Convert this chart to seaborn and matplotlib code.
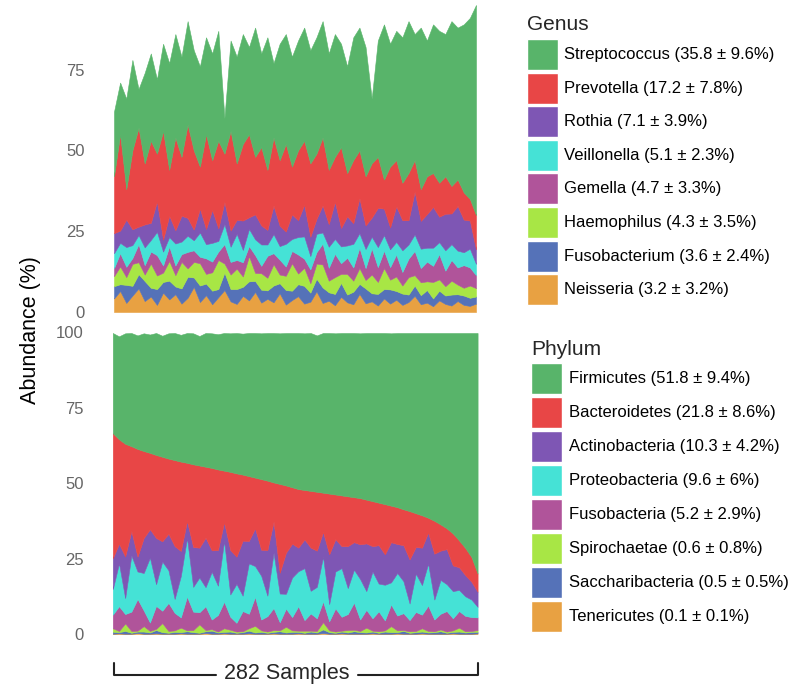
import numpy as np
import matplotlib
matplotlib.use("Agg")
import matplotlib.pyplot as plt
from matplotlib.patches import Rectangle
import seaborn as sns

# --- Genus (top panel), stacked from bottom to top, one value per sample group ---
genus_labels = ["Streptococcus (35.8 ± 9.6%)", "Prevotella (17.2 ± 7.8%)",
                "Rothia (7.1 ± 3.9%)", "Veillonella (5.1 ± 2.3%)",
                "Gemella (4.7 ± 3.3%)", "Haemophilus (4.3 ± 3.5%)",
                "Fusobacterium (3.6 ± 2.4%)", "Neisseria (3.2 ± 3.2%)"]

neisseria = [4.2, 6.5, 2.8, 5.1, 7.3, 3.4, 4.8, 2.2, 6.0, 3.9,
             5.5, 2.6, 4.4, 7.8, 3.1, 5.2, 2.4, 4.6, 6.8, 3.3,
             2.5, 5.0, 3.6, 6.2, 2.9, 4.1, 3.0, 5.8, 2.3, 3.7,
             4.9, 2.6, 3.2, 6.4, 2.8, 3.5, 2.1, 4.7, 3.0, 2.4,
             5.6, 2.7, 3.3, 2.0, 4.2, 2.6, 3.8, 2.2, 3.1, 5.0,
             2.4, 2.9, 1.8, 3.6, 2.5, 2.0, 3.4, 2.2, 1.9, 2.6]
fusobacterium = [3.8, 2.1, 5.6, 3.0, 4.4, 6.2, 2.7, 4.9, 3.3, 5.8,
                 2.4, 4.7, 6.5, 2.9, 5.1, 3.6, 4.2, 2.5, 5.4, 3.8,
                 4.6, 2.8, 5.9, 3.4, 4.0, 2.6, 5.2, 3.1, 4.5, 2.9,
                 3.7, 5.5, 2.8, 3.9, 4.8, 2.6, 3.5, 4.3, 2.4, 3.9,
                 3.1, 4.6, 2.5, 3.6, 2.9, 4.4, 2.7, 3.5, 2.3, 3.2,
                 2.8, 3.9, 2.4, 3.0, 2.6, 3.4, 2.1, 2.9, 2.5, 2.2]
haemophilus = [3.1, 5.5, 2.4, 6.8, 3.7, 2.0, 7.5, 4.2, 2.9, 6.1,
               3.5, 8.2, 2.6, 4.8, 6.9, 3.0, 5.7, 9.0, 2.8, 4.5,
               6.3, 3.2, 7.8, 2.5, 5.1, 3.9, 6.6, 2.7, 4.4, 8.5,
               3.3, 5.6, 2.9, 4.7, 7.1, 3.6, 5.2, 2.8, 6.4, 3.4,
               4.9, 2.6, 5.8, 3.7, 6.5, 3.0, 4.5, 2.5, 5.4, 3.2,
               4.0, 2.7, 5.1, 3.5, 2.9, 4.3, 3.0, 2.4, 3.8, 2.6]
gemella = [2.5, 4.1, 3.2, 1.8, 5.6, 2.9, 3.7, 6.3, 2.2, 4.5,
           3.0, 2.4, 5.1, 3.6, 2.0, 4.8, 3.3, 2.6, 6.0, 3.9,
           2.7, 4.4, 3.1, 5.5, 2.3, 6.8, 3.4, 4.6, 2.9, 3.8,
           5.9, 2.8, 4.3, 3.5, 6.5, 4.0, 7.2, 3.3, 5.0, 4.1,
           6.3, 3.7, 8.1, 4.6, 5.4, 3.9, 6.8, 4.2, 5.7, 7.5,
           4.4, 6.1, 5.0, 7.8, 4.8, 6.4, 5.3, 7.0, 5.6, 4.0]
veillonella = [4.6, 3.2, 6.1, 4.0, 2.8, 5.5, 3.6, 7.2, 4.3, 2.9,
               6.8, 3.9, 5.0, 3.1, 7.5, 4.4, 5.8, 3.3, 6.2, 4.7,
               8.1, 3.8, 5.3, 4.9, 6.6, 3.5, 5.9, 4.2, 7.0, 3.7,
               5.4, 6.9, 4.1, 5.7, 3.4, 6.5, 4.6, 5.2, 3.8, 7.3,
               4.5, 5.9, 3.6, 6.2, 4.8, 5.5, 3.9, 6.7, 4.4, 5.1,
               6.0, 4.3, 5.6, 3.7, 6.3, 4.9, 5.2, 4.0, 5.8, 3.5]
rothia = [6.2, 3.8, 8.5, 4.9, 2.6, 7.1, 5.3, 9.4, 3.7, 6.6,
          4.1, 8.0, 5.5, 3.3, 7.4, 4.7, 10.2, 3.9, 6.8, 5.0,
          4.3, 9.1, 3.6, 7.7, 5.9, 4.5, 8.8, 6.3, 3.8, 7.6,
          5.2, 9.8, 6.0, 4.6, 8.4, 7.0, 11.5, 5.7, 9.0, 6.4,
          10.8, 7.3, 5.9, 12.1, 8.2, 6.8, 11.0, 9.3, 7.5, 13.2,
          8.6, 10.4, 12.6, 7.9, 11.3, 9.5, 13.8, 10.1, 8.7, 4.5]
prevotella = [17.6, 29.8, 9.4, 24.4, 30.6, 18.9, 25.4, 14.8, 33.6, 14.2,
              28.7, 18.2, 28.9, 24.5, 13.0, 29.3, 15.4, 27.1, 15.0, 30.8,
              17.5, 23.7, 25.7, 17.8, 24.2, 18.6, 21.1, 20.3, 27.1, 14.8,
              21.6, 19.8, 22.7, 20.2, 21.0, 16.8, 13.9, 25.0, 13.4, 19.5,
              14.8, 15.2, 16.8, 15.8, 9.0, 18.8, 14.3, 11.6, 14.6, 9.8,
              9.8, 11.7, 10.5, 10.5, 11.6, 8.5, 8.2, 8.4, 6.7, 10.6]
streptococcus = [20, 16, 28, 28, 12, 28, 27, 23, 27, 33,
                 32, 31, 32, 31, 31, 30, 33, 34, 11, 28,
                 33, 34, 27, 40, 29, 41, 23, 36, 34, 34,
                 34, 35, 35, 36, 36, 36, 38, 32, 33, 38,
                 38, 40, 20, 36, 48, 38, 40, 45, 47, 39,
                 50, 42, 46, 47, 44, 51, 47, 52, 56, 65]

# --- Phylum (bottom panel) ---
phylum_labels = ["Firmicutes (51.8 ± 9.4%)", "Bacteroidetes (21.8 ± 8.6%)",
                 "Actinobacteria (10.3 ± 4.2%)", "Proteobacteria (9.6 ± 6%)",
                 "Fusobacteria (5.2 ± 2.9%)", "Spirochaetae (0.6 ± 0.8%)",
                 "Saccharibacteria (0.5 ± 0.5%)", "Tenericutes (0.1 ± 0.1%)"]

tenericutes = [0.1, 0.2, 0.1, 0.1, 0.3, 0.1, 0.1, 0.2, 0.1, 0.1,
               0.1, 0.2, 0.1, 0.1, 0.1, 0.3, 0.1, 0.1, 0.2, 0.1,
               0.1, 0.1, 0.2, 0.1, 0.1, 0.1, 0.2, 0.1, 0.1, 0.1,
               0.2, 0.1, 0.1, 0.1, 0.3, 0.1, 0.1, 0.2, 0.1, 0.1,
               0.1, 0.1, 0.2, 0.1, 0.1, 0.1, 0.2, 0.1, 0.1, 0.1,
               0.2, 0.1, 0.1, 0.1, 0.1, 0.2, 0.1, 0.1, 0.1, 0.2]
saccharibacteria = [0.6, 0.4, 0.9, 0.3, 0.5, 0.7, 0.4, 1.1, 0.5, 0.3,
                    0.6, 0.4, 0.8, 0.5, 0.3, 0.6, 1.0, 0.4, 0.5, 0.7,
                    0.3, 0.5, 0.9, 0.4, 0.6, 0.3, 0.5, 0.8, 0.4, 0.6,
                    0.5, 0.3, 0.7, 0.4, 1.2, 0.5, 0.3, 0.6, 0.4, 0.8,
                    0.5, 0.4, 0.6, 0.3, 0.7, 0.5, 0.4, 0.9, 0.3, 0.5,
                    0.6, 0.4, 0.5, 0.8, 0.3, 0.5, 0.7, 0.4, 0.6, 0.5]
spirochaetae = [1.2, 0.4, 2.5, 0.6, 0.3, 1.8, 0.5, 0.4, 3.0, 0.6,
                0.5, 1.5, 0.3, 0.7, 2.8, 0.4, 0.5, 0.3, 1.2, 0.6,
                0.4, 0.3, 0.8, 2.2, 0.5, 0.4, 0.6, 0.3, 1.9, 0.5,
                0.4, 0.7, 0.3, 0.5, 2.4, 0.6, 0.4, 0.3, 0.8, 0.5,
                0.4, 1.6, 0.3, 0.5, 0.4, 2.0, 0.6, 0.3, 0.5, 0.4,
                1.1, 0.5, 0.3, 0.6, 0.4, 0.5, 1.3, 0.4, 0.3, 0.6]
fusobacteria = [4.5, 8.2, 3.1, 6.4, 10.5, 5.2, 2.8, 7.6, 4.1, 9.3,
                5.8, 3.4, 11.2, 6.1, 4.0, 7.9, 3.2, 5.5, 8.8, 4.3,
                2.9, 6.7, 4.8, 9.6, 3.6, 5.1, 7.3, 2.7, 6.0, 4.4,
                8.1, 3.5, 5.7, 4.2, 6.9, 3.0, 7.7, 4.6, 5.3, 9.0,
                3.8, 5.9, 4.1, 6.6, 3.3, 7.2, 4.9, 5.6, 3.7, 6.3,
                4.5, 8.4, 3.9, 5.2, 6.8, 4.0, 5.5, 5.1, 4.6, 4.2]
proteobacteria = [8.5, 14.2, 5.3, 18.6, 9.1, 12.4, 21.5, 7.2, 16.3, 10.8,
                  4.6, 13.7, 19.4, 8.2, 11.5, 6.3, 15.8, 9.7, 20.1, 7.4,
                  12.9, 5.1, 16.7, 10.2, 14.5, 6.8, 18.3, 9.5, 4.9, 13.1,
                  11.6, 17.2, 7.5, 10.4, 14.8, 5.7, 12.2, 16.1, 8.6, 10.9,
                  13.4, 6.2, 15.5, 9.2, 11.8, 7.3, 14.1, 10.6, 5.5, 12.7,
                  9.8, 13.9, 6.6, 11.2, 8.9, 9.0, 7.0, 6.5, 5.8, 3.5]
actinobacteria = [10.2, 6.5, 13.8, 8.1, 4.9, 11.6, 9.4, 15.3, 6.7, 12.1,
                  17.5, 8.3, 5.6, 13.2, 9.9, 16.4, 7.1, 11.8, 6.2, 14.7,
                  9.0, 18.2, 7.4, 12.5, 8.6, 15.1, 10.3, 6.9, 13.6, 11.2,
                  7.8, 9.5, 14.3, 12.0, 8.2, 16.5, 10.7, 7.3, 13.9, 9.1,
                  11.5, 15.8, 8.4, 12.7, 10.1, 13.3, 9.6, 11.9, 14.6, 8.8,
                  12.4, 10.3, 15.2, 9.7, 11.6, 8.5, 7.5, 7.0, 5.9, 5.0]
bacteroidetes = [41.4, 34.6, 37.3, 28.1, 35.7, 28.8, 25.3, 27.5, 28.0, 24.9,
                 28.5, 29.6, 19.3, 27.4, 27.2, 23.5, 27.3, 26.7, 17.1, 25.9,
                 27.6, 21.9, 21.5, 16.8, 23.4, 23.0, 13.0, 29.4, 22.3, 18.7,
                 19.4, 16.4, 18.8, 19.5, 13.0, 20.1, 14.8, 16.8, 16.5, 14.9,
                 15.3, 14.5, 14.9, 14.1, 16.6, 12.1, 12.2, 11.9, 16.0, 11.2,
                 10.7, 4.9, 10.9, 8.7, 6.9, 10.6, 8.9, 9.0, 8.2, 6.0]
firmicutes = [33.2, 34.1, 36.6, 37.5, 37.6, 39.0, 39.2, 40.4, 40.1, 41.5,
              42.1, 42.0, 43.0, 43.4, 42.9, 44.3, 44.6, 44.8, 45.6, 45.9,
              46.5, 46.7, 47.4, 47.9, 48.3, 48.9, 49.5, 49.9, 50.5, 51.1,
              51.7, 51.9, 52.3, 51.8, 52.9, 53.2, 53.4, 53.8, 54.1, 54.4,
              54.6, 55.2, 55.7, 56.2, 56.7, 57.1, 57.7, 58.4, 59.0, 59.7,
              60.4, 61.2, 62.2, 63.4, 64.7, 66.4, 68.7, 71.2, 74.2, 79.7]

colors = ["#58b46a", "#e84646", "#7e56b4", "#45e2d6",
          "#b0549a", "#a8e645", "#5572b8", "#e8a142"]

sns.set_theme(style="white")
plt.rcParams["font.family"] = ["Liberation Sans", "DejaVu Sans"]

fig = plt.figure(figsize=(8, 6.94), dpi=100)
ax1 = fig.add_axes([0.1425, 0.5504, 0.4525, 0.4424])
ax2 = fig.add_axes([0.141, 0.0865, 0.456, 0.438])

genus_stack = [neisseria, fusobacterium, haemophilus, gemella,
               veillonella, rothia, prevotella, streptococcus]
phylum_stack = [tenericutes, saccharibacteria, spirochaetae, fusobacteria,
                proteobacteria, actinobacteria, bacteroidetes, firmicutes]

x = np.arange(len(streptococcus))
for ax, stack, ymax, ticks in [(ax1, genus_stack, 95, [0, 25, 50, 75]),
                               (ax2, phylum_stack, 100.7, [0, 25, 50, 75, 100])]:
    polys = ax.stackplot(x, *stack, colors=colors[::-1], linewidth=0)
    for p in polys:
        p.set_edgecolor(p.get_facecolor())
        p.set_linewidth(0.4)
    ax.set_xlim(0, len(x) - 1)
    ax.set_ylim(0, ymax)
    ax.set_yticks(ticks)
    ax.set_xticks([])
    ax.tick_params(axis="y", length=0, pad=21, labelsize=12, labelcolor="#666666")
    sns.despine(ax=ax, left=True, bottom=True)

fig.text(0.038, 0.525, "Abundance (%)", rotation=90, ha="center", va="center",
         fontsize=15.5, color="black")

# legends drawn by hand to match the boxed swatches
def draw_legend(title, labels, x0, title_y, top0, step, text_x):
    fig.text(x0 / 800, 1 - title_y / 694, title, fontsize=15, va="baseline")
    for i, (lab, c) in enumerate(zip(labels, colors)):
        top = top0 + i * step
        fig.add_artist(Rectangle((x0 / 800, 1 - (top + 31) / 694), 31 / 800, 31 / 694,
                                 transform=fig.transFigure, facecolor=c,
                                 edgecolor="white", linewidth=1))
        fig.text(text_x / 800, 1 - (top + 15.5) / 694, lab, fontsize=12,
                 va="center", color="black")

draw_legend("Genus", genus_labels, 527, 30, 39, 33.6, 564)
draw_legend("Phylum", phylum_labels, 531, 355, 363, 34, 569)

# bracket under the panels
y_b = 1 - 675 / 694
y_t = 1 - 663 / 694
fig.add_artist(plt.Line2D([114 / 800, 114 / 800, 216 / 800], [y_t, y_b, y_b],
                          transform=fig.transFigure, color="#222222", lw=1.5))
fig.add_artist(plt.Line2D([358 / 800, 478 / 800, 478 / 800], [y_b, y_b, y_t],
                          transform=fig.transFigure, color="#222222", lw=1.5))
fig.text(287 / 800, 1 - 674 / 694, "282 Samples", ha="center", va="center", fontsize=15.5)

fig.savefig("out.png", dpi=100)
